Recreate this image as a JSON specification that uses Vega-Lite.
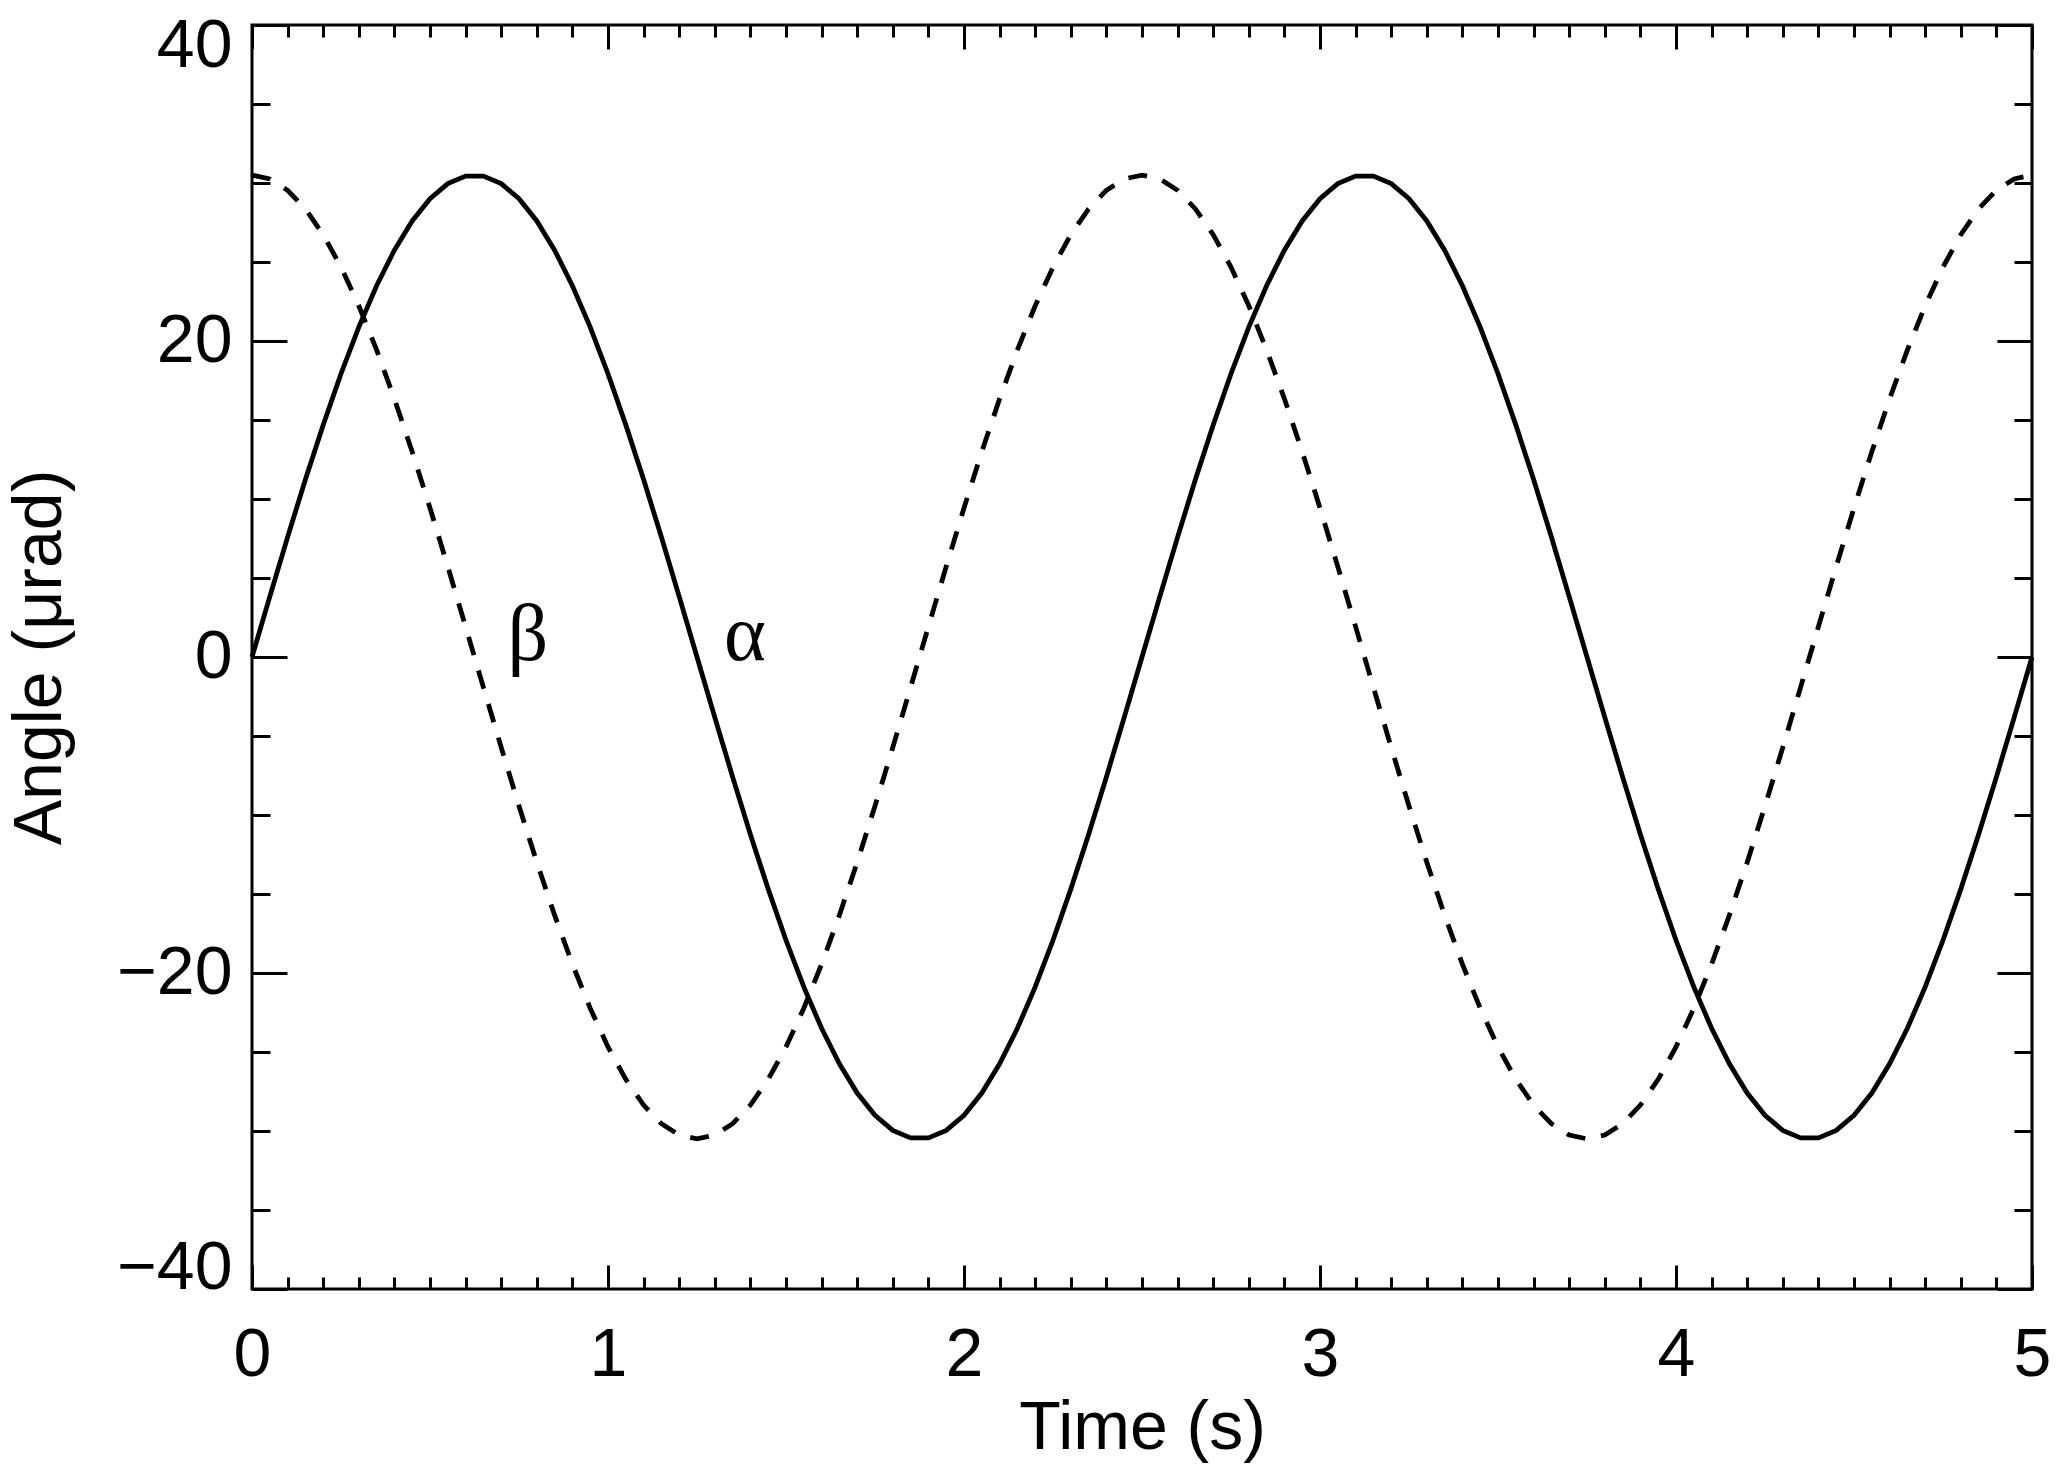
{
  "$schema": "https://vega.github.io/schema/vega-lite/v6.json",
  "autosize": {"type": "none"},
  "padding": {"left": 252, "top": 25, "right": 35, "bottom": 191},
  "width": 1780,
  "height": 1264,
  "background": "white",
  "config": {
    "view": {"stroke": "black", "strokeWidth": 3},
    "axis": {"domain": false, "grid": false, "tickColor": "black", "tickWidth": 3, "labelColor": "black", "titleColor": "black", "labelFont": "Liberation Sans", "titleFont": "Liberation Sans", "labelFontSize": 68, "titleFontSize": 68, "titleFontWeight": "normal"}
  },
  "datasets": {
    "curves": [
      {"t":0,"a":0,"b":30.5},{"t":0.05,"a":3.82,"b":30.26},{"t":0.1,"a":7.59,"b":29.54},{"t":0.15,"a":11.23,"b":28.36},{"t":0.2,"a":14.69,"b":26.73},{"t":0.25,"a":17.93,"b":24.68},{"t":0.3,"a":20.88,"b":22.23},{"t":0.35,"a":23.5,"b":19.44},{"t":0.4,"a":25.75,"b":16.34},{"t":0.45,"a":27.6,"b":12.99},{"t":0.5,"a":29.01,"b":9.43},{"t":0.55,"a":29.96,"b":5.72},{"t":0.6,"a":30.44,"b":1.92},{"t":0.65,"a":30.44,"b":-1.92},{"t":0.7,"a":29.96,"b":-5.72},{"t":0.75,"a":29.01,"b":-9.43},{"t":0.8,"a":27.6,"b":-12.99},{"t":0.85,"a":25.75,"b":-16.34},{"t":0.9,"a":23.5,"b":-19.44},{"t":0.95,"a":20.88,"b":-22.23},{"t":1.0,"a":17.93,"b":-24.68},{"t":1.05,"a":14.69,"b":-26.73},{"t":1.1,"a":11.23,"b":-28.36},{"t":1.15,"a":7.59,"b":-29.54},{"t":1.2,"a":3.82,"b":-30.26},{"t":1.25,"a":0,"b":-30.5},{"t":1.3,"a":-3.82,"b":-30.26},{"t":1.35,"a":-7.59,"b":-29.54},{"t":1.4,"a":-11.23,"b":-28.36},{"t":1.45,"a":-14.69,"b":-26.73},{"t":1.5,"a":-17.93,"b":-24.68},{"t":1.55,"a":-20.88,"b":-22.23},{"t":1.6,"a":-23.5,"b":-19.44},{"t":1.65,"a":-25.75,"b":-16.34},{"t":1.7,"a":-27.6,"b":-12.99},{"t":1.75,"a":-29.01,"b":-9.43},{"t":1.8,"a":-29.96,"b":-5.72},{"t":1.85,"a":-30.44,"b":-1.92},{"t":1.9,"a":-30.44,"b":1.92},{"t":1.95,"a":-29.96,"b":5.72},{"t":2.0,"a":-29.01,"b":9.43},{"t":2.05,"a":-27.6,"b":12.99},{"t":2.1,"a":-25.75,"b":16.34},{"t":2.15,"a":-23.5,"b":19.44},{"t":2.2,"a":-20.88,"b":22.23},{"t":2.25,"a":-17.93,"b":24.68},{"t":2.3,"a":-14.69,"b":26.73},{"t":2.35,"a":-11.23,"b":28.36},{"t":2.4,"a":-7.59,"b":29.54},{"t":2.45,"a":-3.82,"b":30.26},{"t":2.5,"a":0,"b":30.5},
      {"t":2.55,"a":3.82,"b":30.26},{"t":2.6,"a":7.59,"b":29.54},{"t":2.65,"a":11.23,"b":28.36},{"t":2.7,"a":14.69,"b":26.73},{"t":2.75,"a":17.93,"b":24.68},{"t":2.8,"a":20.88,"b":22.23},{"t":2.85,"a":23.5,"b":19.44},{"t":2.9,"a":25.75,"b":16.34},{"t":2.95,"a":27.6,"b":12.99},{"t":3.0,"a":29.01,"b":9.43},{"t":3.05,"a":29.96,"b":5.72},{"t":3.1,"a":30.44,"b":1.92},{"t":3.15,"a":30.44,"b":-1.92},{"t":3.2,"a":29.96,"b":-5.72},{"t":3.25,"a":29.01,"b":-9.43},{"t":3.3,"a":27.6,"b":-12.99},{"t":3.35,"a":25.75,"b":-16.34},{"t":3.4,"a":23.5,"b":-19.44},{"t":3.45,"a":20.88,"b":-22.23},{"t":3.5,"a":17.93,"b":-24.68},{"t":3.55,"a":14.69,"b":-26.73},{"t":3.6,"a":11.23,"b":-28.36},{"t":3.65,"a":7.59,"b":-29.54},{"t":3.7,"a":3.82,"b":-30.26},{"t":3.75,"a":0,"b":-30.5},{"t":3.8,"a":-3.82,"b":-30.26},{"t":3.85,"a":-7.59,"b":-29.54},{"t":3.9,"a":-11.23,"b":-28.36},{"t":3.95,"a":-14.69,"b":-26.73},{"t":4.0,"a":-17.93,"b":-24.68},{"t":4.05,"a":-20.88,"b":-22.23},{"t":4.1,"a":-23.5,"b":-19.44},{"t":4.15,"a":-25.75,"b":-16.34},{"t":4.2,"a":-27.6,"b":-12.99},{"t":4.25,"a":-29.01,"b":-9.43},{"t":4.3,"a":-29.96,"b":-5.72},{"t":4.35,"a":-30.44,"b":-1.92},{"t":4.4,"a":-30.44,"b":1.92},{"t":4.45,"a":-29.96,"b":5.72},{"t":4.5,"a":-29.01,"b":9.43},{"t":4.55,"a":-27.6,"b":12.99},{"t":4.6,"a":-25.75,"b":16.34},{"t":4.65,"a":-23.5,"b":19.44},{"t":4.7,"a":-20.88,"b":22.23},{"t":4.75,"a":-17.93,"b":24.68},{"t":4.8,"a":-14.69,"b":26.73},{"t":4.85,"a":-11.23,"b":28.36},{"t":4.9,"a":-7.59,"b":29.54},{"t":4.95,"a":-3.82,"b":30.26},{"t":5.0,"a":0,"b":30.5}
    ],
    "labels": [
      {"t": 0.775, "v": -0.2, "lab": "β"},
      {"t": 1.385, "v": -0.2, "lab": "α"}
    ]
  },
  "resolve": {"axis": {"x": "independent", "y": "independent"}},
  "layer": [
    {
      "data": {"name": "curves"},
      "mark": {"type": "line", "color": "black", "strokeWidth": 4.8, "clip": false},
      "encoding": {
        "x": {"field": "t", "type": "quantitative", "scale": {"domain": [0, 5], "nice": false, "zero": false},
          "axis": {"orient": "bottom", "values": [0, 1, 2, 3, 4, 5], "tickSize": -24, "labelPadding": 56, "labelFlush": false, "title": "Time (s)", "titlePadding": 5}},
        "y": {"field": "a", "type": "quantitative", "scale": {"domain": [-40, 40], "nice": false, "zero": false},
          "axis": {"orient": "left", "values": [-40, -20, 0, 20, 40], "tickSize": -35, "labelPadding": 55, "labelFlush": true, "labelFlushOffset": 13, "title": "Angle (μrad)", "titlePadding": 42}}
      }
    },
    {
      "data": {"name": "curves"},
      "mark": {"type": "line", "color": "black", "strokeWidth": 4.8, "strokeDash": [19, 16], "clip": false},
      "encoding": {
        "x": {"field": "t", "type": "quantitative",
          "axis": {"orient": "top", "values": [0, 1, 2, 3, 4, 5], "tickSize": -24, "labels": false, "title": null}},
        "y": {"field": "b", "type": "quantitative",
          "axis": {"orient": "right", "values": [-40, -20, 0, 20, 40], "tickSize": -35, "labels": false, "title": null}}
      }
    },
    {
      "data": {"name": "curves"},
      "mark": {"type": "line", "opacity": 0},
      "encoding": {
        "x": {"field": "t", "type": "quantitative",
          "axis": {"orient": "bottom", "values": [0.1,0.2,0.3,0.4,0.5,0.6,0.7,0.8,0.9,1.1,1.2,1.3,1.4,1.5,1.6,1.7,1.8,1.9,2.1,2.2,2.3,2.4,2.5,2.6,2.7,2.8,2.9,3.1,3.2,3.3,3.4,3.5,3.6,3.7,3.8,3.9,4.1,4.2,4.3,4.4,4.5,4.6,4.7,4.8,4.9], "tickSize": -12, "labels": false, "title": null}},
        "y": {"field": "a", "type": "quantitative",
          "axis": {"orient": "left", "values": [-35, -30, -25, -15, -10, -5, 5, 10, 15, 25, 30, 35], "tickSize": -18, "labels": false, "title": null}}
      }
    },
    {
      "data": {"name": "curves"},
      "mark": {"type": "line", "opacity": 0},
      "encoding": {
        "x": {"field": "t", "type": "quantitative",
          "axis": {"orient": "top", "values": [0.1,0.2,0.3,0.4,0.5,0.6,0.7,0.8,0.9,1.1,1.2,1.3,1.4,1.5,1.6,1.7,1.8,1.9,2.1,2.2,2.3,2.4,2.5,2.6,2.7,2.8,2.9,3.1,3.2,3.3,3.4,3.5,3.6,3.7,3.8,3.9,4.1,4.2,4.3,4.4,4.5,4.6,4.7,4.8,4.9], "tickSize": -12, "labels": false, "title": null}},
        "y": {"field": "a", "type": "quantitative",
          "axis": {"orient": "right", "values": [-35, -30, -25, -15, -10, -5, 5, 10, 15, 25, 30, 35], "tickSize": -18, "labels": false, "title": null}}
      }
    },
    {
      "data": {"name": "labels"},
      "mark": {"type": "text", "font": "Liberation Serif", "fontSize": 80, "color": "black", "align": "center", "baseline": "alphabetic"},
      "encoding": {
        "x": {"field": "t", "type": "quantitative", "axis": null},
        "y": {"field": "v", "type": "quantitative", "axis": null},
        "text": {"field": "lab"}
      }
    }
  ]
}
